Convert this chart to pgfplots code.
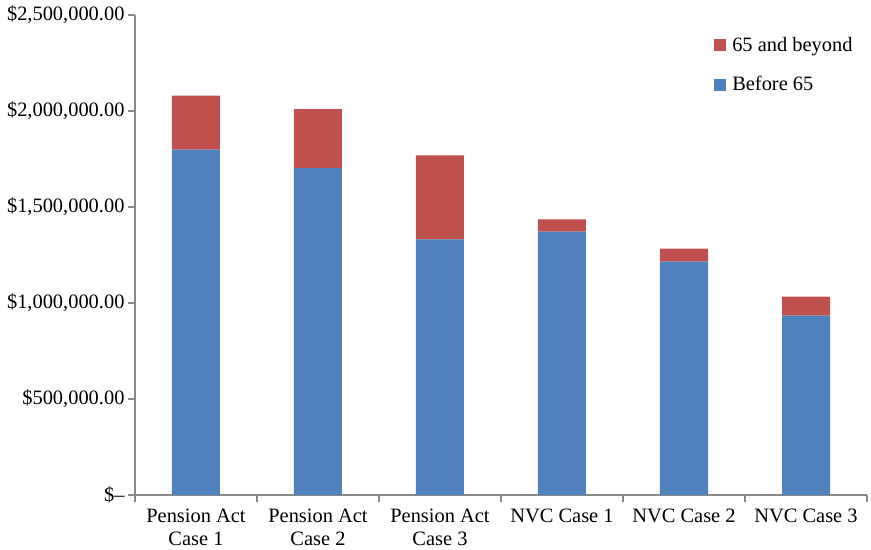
\documentclass[border=0pt]{standalone}
\usepackage{pgfplots}
\pgfplotsset{compat=1.18}
\usepackage{fontspec}
\setmainfont{Liberation Serif}
\definecolor{before}{HTML}{4F81BD}
\definecolor{beyond}{HTML}{C0504D}
\definecolor{axisgray}{HTML}{898989}
\begin{document}
\begin{tikzpicture}
\begin{axis}[
    scale only axis,
    width=732bp, height=480bp,
    ybar stacked, bar width=48bp,
    xmin=-0.5, xmax=5.5,
    ymin=0, ymax=2500000,
    axis x line*=bottom, axis y line*=left,
    axis line style={axisgray, line width=1.5bp},
    tick style={axisgray, line width=1.5bp},
    tick align=outside, major tick length=7bp,
    xtick={-0.5,0.5,...,5.5},
    xticklabels={,,,,,,},
    extra x ticks={0,1,2,3,4,5},
    extra x tick labels={Pension Act\\Case 1,Pension Act\\Case 2,Pension Act\\Case 3,NVC Case 1,NVC Case 2,NVC Case 3},
    extra x tick style={major tick length=0pt,
        xticklabel style={align=center, anchor=north, yshift=-10bp, font=\fontsize{20.5}{24}\selectfont}},
    ytick={0,500000,1000000,1500000,2000000,2500000},
    yticklabels={{\$–},{\$500,000.00},{\$1,000,000.00},{\$1,500,000.00},{\$2,000,000.00},{\$2,500,000.00}},
    scaled y ticks=false,
    tick label style={font=\fontsize{20.5}{24}\selectfont},
    reverse legend,
    legend style={draw=none, fill=none, at={(0.787,0.963)}, anchor=north west,
        font=\fontsize{20.5}{24}\selectfont, row sep=20bp, cells={anchor=west}},
]
\addplot[fill=before, draw=none,
    legend image code/.code={\fill[before] (0bp,-6bp) rectangle (12bp,6bp); \path (16bp,0bp);}]
    coordinates {(0,1798500) (1,1703100) (2,1331800) (3,1371400) (4,1215100) (5,933900)};
\addplot[fill=beyond, draw=none,
    legend image code/.code={\fill[beyond] (0bp,-6bp) rectangle (12bp,6bp); \path (16bp,0bp);}]
    coordinates {(0,281200) (1,307300) (2,437500) (3,64500) (4,67700) (5,98900)};
\legend{Before 65, 65 and beyond}
\end{axis}
\pgfresetboundingbox
\path[use as bounding box] (-135bp,-55bp) rectangle (736bp,495bp);
\end{tikzpicture}
\end{document}
